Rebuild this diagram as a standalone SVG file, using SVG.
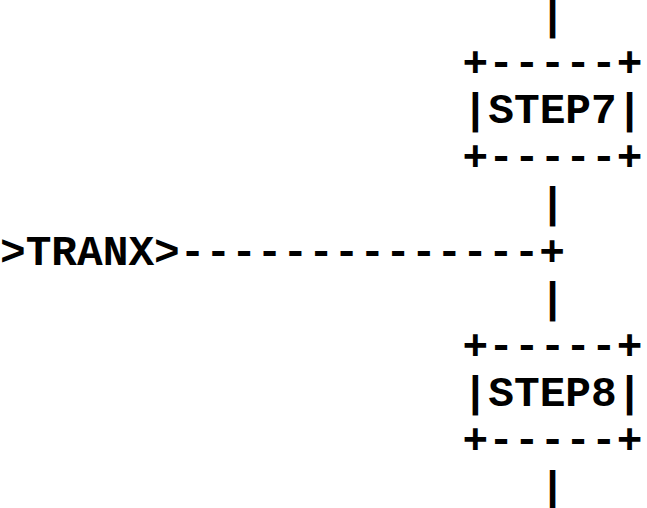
<svg xmlns="http://www.w3.org/2000/svg" width="647" height="508" viewBox="0 0 647 508">
<style>
text{font-family:"Liberation Mono","DejaVu Sans Mono",monospace;font-weight:bold;font-size:42.8px;fill:#000;white-space:pre}
</style>
<rect width="647" height="508" fill="#fff"/>
<g id="connectors">
<text x="539.7" y="28.6">|</text>
<text x="539.7" y="217.4">|</text>
<text x="0" y="264.6">&gt;TRANX&gt;--------------+</text>
<text x="539.7" y="311.8">|</text>
<text x="539.7" y="500.6">|</text>
</g>
<g id="step7">
<text x="462.6" y="75.8">+-----+</text>
<text x="462.6" y="123">|STEP7|</text>
<text x="462.6" y="170.2">+-----+</text>
</g>
<g id="step8">
<text x="462.6" y="359">+-----+</text>
<text x="462.6" y="406.2">|STEP8|</text>
<text x="462.6" y="453.4">+-----+</text>
</g>
</svg>
